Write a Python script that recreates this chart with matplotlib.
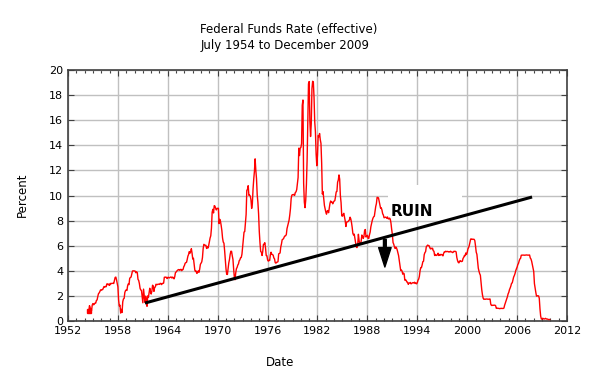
import numpy as np
import pandas as pd
import matplotlib
matplotlib.use("Agg")
import matplotlib.pyplot as plt
from matplotlib.ticker import MultipleLocator
from matplotlib.patches import Rectangle

# Effective federal funds rate, monthly, July 1954 - December 2009 (percent)
rate = [
    0.80, 1.22, 1.06, 0.85, 0.83, 1.28,
    1.39, 1.29, 1.35, 1.43, 1.43, 1.64, 1.68, 1.96, 2.18, 2.24, 2.35, 2.48,
    2.45, 2.50, 2.50, 2.62, 2.75, 2.71, 2.75, 2.73, 2.95, 2.96, 2.88, 2.94,
    2.84, 3.00, 2.96, 3.00, 3.00, 3.00, 2.99, 3.24, 3.47, 3.50, 3.28, 2.98,
    2.72, 1.67, 1.20, 1.26, 0.63, 0.93, 0.68, 1.53, 1.76, 1.80, 2.27, 2.42,
    2.48, 2.43, 2.80, 2.96, 2.90, 3.39, 3.47, 3.50, 3.76, 3.98, 4.00, 3.99,
    3.99, 3.97, 3.84, 3.92, 3.85, 3.32, 3.23, 2.98, 2.60, 2.47, 2.44, 1.98,
    1.45, 2.54, 2.02, 1.49, 1.98, 1.73, 1.17, 2.00, 1.88, 2.26, 2.61, 2.33,
    2.15, 2.37, 2.85, 2.78, 2.36, 2.68, 2.71, 2.93, 2.90, 2.90, 2.94, 2.93,
    2.92, 3.00, 2.98, 2.90, 3.00, 2.99, 3.02, 3.49, 3.48, 3.50, 3.48, 3.38,
    3.48, 3.48, 3.43, 3.47, 3.50, 3.50, 3.42, 3.50, 3.45, 3.36, 3.52, 3.85,
    3.90, 3.98, 4.04, 4.09, 4.10, 4.04, 4.09, 4.12, 4.01, 4.08, 4.10, 4.32,
    4.42, 4.60, 4.65, 4.67, 4.90, 5.17, 5.30, 5.53, 5.40, 5.53, 5.76, 5.40,
    4.94, 5.00, 4.53, 4.05, 3.94, 3.98, 3.79, 3.90, 3.99, 3.88, 4.13, 4.51,
    4.61, 4.71, 5.05, 5.76, 6.11, 6.07, 6.02, 6.03, 5.78, 5.91, 5.82, 6.02,
    6.30, 6.61, 6.79, 7.41, 8.67, 8.90, 8.61, 9.19, 9.15, 9.00, 8.85, 8.97,
    8.98, 8.98, 7.76, 8.10, 7.95, 7.61, 7.21, 6.61, 6.29, 6.20, 5.60, 4.90,
    4.14, 3.72, 3.71, 4.15, 4.63, 4.91, 5.31, 5.56, 5.55, 5.20, 4.91, 4.14,
    3.50, 3.29, 3.83, 4.17, 4.27, 4.46, 4.55, 4.80, 4.87, 5.04, 5.06, 5.33,
    5.94, 6.58, 7.09, 7.12, 7.84, 8.49, 10.40, 10.50, 10.78, 10.01, 10.03, 9.95,
    9.65, 8.97, 9.35, 10.51, 11.31, 11.93, 12.92, 12.01, 11.34, 10.06, 9.45, 8.53,
    7.13, 6.24, 5.54, 5.49, 5.22, 5.55, 6.10, 6.14, 6.24, 5.82, 5.22, 5.20,
    4.87, 4.77, 4.84, 4.82, 5.29, 5.48, 5.31, 5.29, 5.25, 5.03, 4.95, 4.65,
    4.61, 4.68, 4.69, 4.73, 5.35, 5.39, 5.42, 5.90, 6.14, 6.47, 6.51, 6.56,
    6.70, 6.78, 6.79, 6.89, 7.36, 7.60, 7.81, 8.04, 8.45, 8.96, 9.76, 10.03,
    10.07, 10.06, 10.09, 10.01, 10.24, 10.29, 10.47, 10.94, 11.43, 13.77, 13.18, 13.78,
    13.82, 14.13, 17.19, 17.61, 10.98, 9.47, 9.03, 9.61, 10.87, 12.81, 15.85, 18.90,
    19.08, 15.93, 14.70, 15.72, 18.52, 19.10, 19.04, 17.82, 15.87, 15.08, 13.31, 12.37,
    13.22, 14.78, 14.68, 14.94, 14.45, 14.15, 12.59, 10.12, 10.31, 9.71, 9.20, 8.95,
    8.68, 8.51, 8.77, 8.80, 8.63, 8.98, 9.37, 9.56, 9.45, 9.48, 9.34, 9.47,
    9.56, 9.59, 9.91, 10.29, 10.32, 11.06, 11.23, 11.64, 11.30, 9.99, 9.43, 8.38,
    8.35, 8.50, 8.58, 8.27, 7.97, 7.53, 7.88, 7.90, 7.92, 7.99, 8.05, 8.27,
    8.14, 7.86, 7.48, 6.99, 6.85, 6.92, 6.56, 6.17, 5.89, 5.85, 6.04, 6.91,
    6.43, 6.10, 6.13, 6.37, 6.85, 6.73, 6.58, 6.73, 7.22, 7.29, 6.69, 6.77,
    6.83, 6.58, 6.58, 6.87, 7.09, 7.51, 7.75, 8.01, 8.19, 8.30, 8.35, 8.76,
    9.12, 9.36, 9.85, 9.84, 9.81, 9.53, 9.24, 8.99, 9.02, 8.84, 8.55, 8.45,
    8.23, 8.24, 8.28, 8.26, 8.18, 8.29, 8.15, 8.13, 8.20, 8.11, 7.81, 7.31,
    6.91, 6.25, 6.12, 5.91, 5.78, 5.90, 5.82, 5.66, 5.45, 5.21, 4.81, 4.43,
    4.03, 4.06, 3.98, 3.73, 3.82, 3.76, 3.25, 3.30, 3.22, 3.10, 3.09, 2.92,
    3.02, 3.03, 3.07, 2.96, 3.00, 3.04, 3.06, 3.03, 3.09, 2.99, 3.02, 2.96,
    3.05, 3.25, 3.34, 3.56, 4.01, 4.25, 4.26, 4.47, 4.73, 4.76, 5.29, 5.45,
    5.53, 5.92, 5.98, 6.05, 6.01, 6.00, 5.85, 5.74, 5.80, 5.76, 5.80, 5.60,
    5.56, 5.22, 5.31, 5.22, 5.24, 5.27, 5.40, 5.22, 5.30, 5.24, 5.31, 5.29,
    5.25, 5.19, 5.39, 5.51, 5.50, 5.56, 5.52, 5.54, 5.54, 5.50, 5.52, 5.50,
    5.56, 5.51, 5.49, 5.45, 5.49, 5.56, 5.54, 5.55, 5.51, 5.07, 4.83, 4.68,
    4.63, 4.76, 4.81, 4.74, 4.74, 4.76, 4.99, 5.07, 5.22, 5.20, 5.42, 5.30,
    5.45, 5.73, 5.85, 6.02, 6.27, 6.53, 6.54, 6.50, 6.52, 6.51, 6.51, 6.40,
    5.98, 5.49, 5.31, 4.80, 4.21, 3.97, 3.77, 3.65, 3.07, 2.49, 2.09, 1.82,
    1.73, 1.74, 1.73, 1.75, 1.75, 1.75, 1.73, 1.74, 1.75, 1.75, 1.34, 1.24,
    1.24, 1.26, 1.25, 1.26, 1.26, 1.22, 1.01, 1.03, 1.01, 1.01, 1.00, 0.98,
    1.00, 1.01, 1.00, 1.00, 1.00, 1.03, 1.26, 1.43, 1.61, 1.76, 1.93, 2.16,
    2.28, 2.50, 2.63, 2.79, 3.00, 3.04, 3.26, 3.50, 3.62, 3.78, 4.00, 4.16,
    4.29, 4.49, 4.59, 4.79, 4.94, 4.99, 5.24, 5.25, 5.25, 5.25, 5.25, 5.24,
    5.25, 5.26, 5.26, 5.25, 5.25, 5.25, 5.26, 5.02, 4.94, 4.76, 4.49, 4.24,
    3.94, 2.98, 2.61, 2.28, 1.98, 2.00, 2.01, 2.00, 1.81, 0.97, 0.39, 0.16,
    0.15, 0.22, 0.18, 0.15, 0.18, 0.21, 0.16, 0.16, 0.15, 0.12, 0.12, 0.12,
]
start_month = "1954-07-01"

# Trend ("RUIN") line and arrow annotation
trend_x = [1961.25, 2007.8]
trend_y = [1.43, 9.88]
arrow_x = 1990.1
arrow_from = 6.5
arrow_to = 4.3
ruin_label = "RUIN"

x_ticks = list(range(1952, 2013, 6))
y_ticks = list(range(0, 21, 2))

dates = pd.date_range(start_month, periods=len(rate), freq="MS")
years = dates.year + (dates.month - 1) / 12.0

plt.rcParams["font.family"] = ["DejaVu Sans"]
fig = plt.figure(figsize=(5.96, 3.76), dpi=100)
ax = fig.add_axes([68/596, 1 - 321/376, (567-68)/596, (321-70)/376])

ax.plot(years, rate, color="#ff0000", lw=1.0, zorder=3)
ax.plot(years[0], rate[0], marker="s", color="#ff0000", ms=3.5, zorder=3)

# white patch behind label area
ax.add_patch(Rectangle((1990.46, 8.05), 8.9, 2.8, facecolor="white",
                       edgecolor="none", zorder=1.5))

ax.plot(trend_x, trend_y, color="black", lw=2.2, zorder=4, solid_capstyle="butt")
ax.annotate("", xy=(arrow_x, arrow_to), xytext=(arrow_x, arrow_from),
            arrowprops=dict(facecolor="black", edgecolor="black", width=2.0,
                            headwidth=9, headlength=14, shrink=0), zorder=4)
ax.text(1990.8, 8.7, ruin_label, fontsize=11, fontweight="bold",
        ha="left", va="center", zorder=5)

ax.set_xlim(1952, 2012)
ax.set_ylim(0, 20)
ax.set_xticks(x_ticks)
ax.set_yticks(y_ticks)
ax.xaxis.set_minor_locator(MultipleLocator(1))
ax.grid(True, which="major", color="#c0c0c0", lw=1.0, zorder=1)
ax.set_axisbelow(True)
ax.tick_params(which="both", direction="in", top=True, right=True,
               labelsize=8, color="#404040")
ax.tick_params(which="major", length=4, width=0.8)
ax.tick_params(which="minor", length=2.5, width=0.8)
for s in ax.spines.values():
    s.set_color("#404040")
    s.set_linewidth(1.2)

fig.text(289/596, 1 - 30/376, "Federal Funds Rate (effective)", ha="center", va="center", fontsize=8.5)
fig.text(285/596, 1 - 46/376, "July 1954 to December 2009", ha="center", va="center", fontsize=8.5)
fig.text(22/596, 1 - 195/376, "Percent", rotation=90, ha="center", va="center", fontsize=8.5)
fig.text(280/596, 1 - 363/376, "Date", ha="center", va="center", fontsize=8.5)

fig.savefig("out.png", dpi=100)
